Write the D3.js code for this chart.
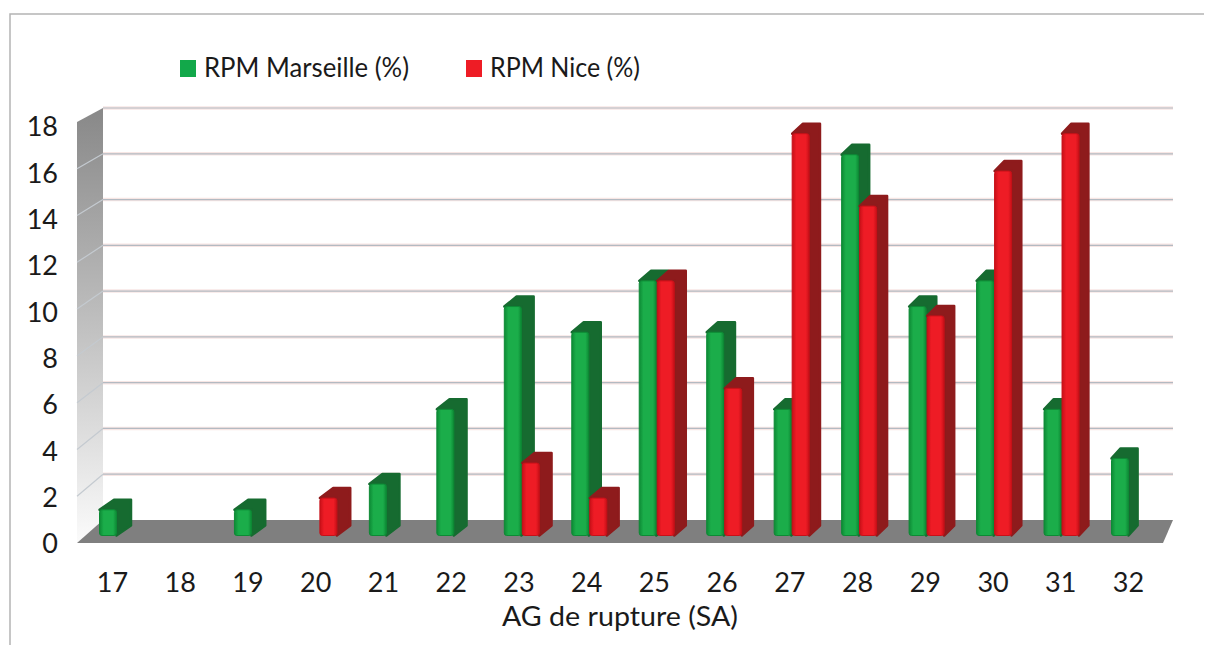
<!DOCTYPE html>
<html>
<head>
<meta charset="utf-8">
<script src="https://cdn.jsdelivr.net/npm/d3@7"></script>
<style>
  html, body { margin: 0; padding: 0; background: #fff; }
  svg { display: block; font-family: Lato, "Open Sans", sans-serif; }
</style>
</head>
<body>
<svg id="chart" width="1206" height="645"></svg>
<script>
// ---- data ----
const categories = ["17","18","19","20","21","22","23","24","25","26","27","28","29","30","31","32"];
const marseille  = [1.1, 0, 1.1, 0, 2.2, 5.4, 9.8, 8.7, 10.9, 8.7, 5.4, 16.3, 9.8, 10.9, 5.4, 3.3];
const nice       = [0, 0, 0, 1.6, 0, 0, 3.1, 1.6, 10.9, 6.3, 17.2, 14.1, 9.4, 15.6, 17.2, 0];
const seriesNames = ["RPM Marseille (%)", "RPM Nice (%)"];
const yTicks = [0, 2, 4, 6, 8, 10, 12, 14, 16, 18];
const xTitle = "AG de rupture (SA)";

// ---- layout ----
const svg = d3.select("#chart");
const colors = {
  m: { front: "#1bad4a", edge: "#0d8a35", side: "#166b30" },
  n: { front: "#ee1c25", edge: "#c81018", side: "#8e1b1c" }
};

// scales
const yBack  = d3.scaleLinear().domain([0, 18]).range([520, 108]);   // back wall
const yFront = d3.scaleLinear().domain([0, 18]).range([543, 122]);   // front edge of side wall
const yLabel = d3.scaleLinear().domain([0, 18]).range([543, 126]);   // tick labels
const yBar   = d3.scaleLinear().domain([0, 18]).range([535.5, 115]); // bar front faces
const xLabel = d3.scalePoint().domain(categories).range([112, 1128]);
const xBar   = d3.scalePoint().domain(categories).range([117, 1129]);

const wallL = 103, wallR = 1173, sideL = 77, floorFrontR = 1163;

const defs = svg.append("defs");
const sg = defs.append("linearGradient").attr("id", "sideGrad")
  .attr("x1", 0).attr("y1", 0).attr("x2", 0).attr("y2", 1);
sg.append("stop").attr("offset", "0%").attr("stop-color", "#888888");
sg.append("stop").attr("offset", "45%").attr("stop-color", "#bababa");
sg.append("stop").attr("offset", "100%").attr("stop-color", "#fbfbfb");

["m", "n"].forEach(k => {
  const g = defs.append("linearGradient").attr("id", "front_" + k)
    .attr("x1", 0).attr("y1", 0).attr("x2", 1).attr("y2", 0);
  g.append("stop").attr("offset", "0%").attr("stop-color", colors[k].edge);
  g.append("stop").attr("offset", "25%").attr("stop-color", colors[k].front);
  g.append("stop").attr("offset", "80%").attr("stop-color", colors[k].front);
  g.append("stop").attr("offset", "100%").attr("stop-color", colors[k].edge);
});

// outer border
svg.append("path").attr("d", "M10,645 L10,14 L1204,14")
  .attr("fill", "none").attr("stroke", "#b4b4b4").attr("stroke-width", 1.5);

// side wall
svg.append("path")
  .attr("d", `M${sideL},${yFront(18)} L${wallL},${yBack(18)} L${wallL},${yBack(0)} L${sideL},${yFront(0)} Z`)
  .attr("fill", "url(#sideGrad)");

// side wall gridlines
svg.append("g").selectAll("line").data(yTicks.filter(d => d > 0 && d < 18)).join("line")
  .attr("x1", sideL).attr("x2", wallL)
  .attr("y1", d => yFront(d)).attr("y2", d => yBack(d))
  .attr("stroke", "#c4cad0").attr("stroke-width", 1.2);

// back wall gridlines (pink halo + grey line)
const gl = svg.append("g");
gl.selectAll("line.halo").data(yTicks.filter(d => d > 0)).join("line")
  .attr("class", "halo")
  .attr("x1", wallL).attr("x2", wallR).attr("y1", d => yBack(d)).attr("y2", d => yBack(d))
  .attr("stroke", "#f7e6e4").attr("stroke-width", 3.5);
gl.selectAll("line.grid").data(yTicks.filter(d => d > 0)).join("line")
  .attr("class", "grid")
  .attr("x1", wallL).attr("x2", wallR).attr("y1", d => yBack(d)).attr("y2", d => yBack(d))
  .attr("stroke", "#b3bac2").attr("stroke-width", 1.2);

// floor
svg.append("path")
  .attr("d", `M${wallL},${yBack(0)} L${wallR},${yBack(0)} L${floorFrontR},${yFront(0)} L${sideL},${yFront(0)} Z`)
  .attr("fill", "#7f7f7f");

// bars
const barW = 17;
const dy = -10;
const dxAt = x => 14.5 - 5.5 * (x - 100) / 1030;
const bars = [];
categories.forEach((c, i) => {
  const cx = xBar(c);
  if (marseille[i] > 0) bars.push({ k: "m", x0: cx - barW - 0.5, v: marseille[i] });
  if (nice[i] > 0) bars.push({ k: "n", x0: cx + 0.5, v: nice[i] });
});
const bg = svg.append("g");
bars.forEach(b => {
  const g = bg.append("g");
  const yT = yBar(b.v), yB = yBar(0), x0 = b.x0, x1 = b.x0 + barW;
  const dx = dxAt(x0);
  // side + top faces
  g.append("path")
    .attr("d", `M${x0},${yT} L${x0 + dx},${yT + dy} L${x1 + dx},${yT + dy} L${x1 + dx},${yB + dy} L${x1},${yB} L${x1},${yT} Z`)
    .attr("fill", colors[b.k].side)
    .attr("stroke", colors[b.k].side).attr("stroke-width", 2.5).attr("stroke-linejoin", "round");
  // front face
  g.append("rect")
    .attr("x", x0).attr("y", yT).attr("width", barW).attr("height", yB - yT)
    .attr("rx", 2.5).attr("ry", 2.5)
    .attr("fill", `url(#front_${b.k})`)
    .attr("stroke", colors[b.k].edge).attr("stroke-width", 1);
});

// y axis labels
const yAxis = svg.append("g").attr("transform", "translate(58,0)")
  .call(d3.axisLeft(yLabel).tickValues(yTicks).tickSize(0).tickPadding(0));
yAxis.select(".domain").remove();
yAxis.selectAll("text").attr("font-size", 27).attr("fill", "#1a1a1a")
  .attr("font-family", "Lato, sans-serif").attr("dy", "0.36em");

// x axis labels
const xAxis = svg.append("g").attr("transform", "translate(0,573)")
  .call(d3.axisBottom(xLabel).tickSize(0).tickPadding(0));
xAxis.select(".domain").remove();
xAxis.selectAll("text").attr("font-size", 27).attr("fill", "#1a1a1a")
  .attr("font-family", "Lato, sans-serif").attr("dy", "0.71em");

// x title
svg.append("text").attr("x", 620).attr("y", 626).attr("text-anchor", "middle")
  .attr("font-size", 27).attr("fill", "#1a1a1a")
  .attr("textLength", 236).attr("lengthAdjust", "spacingAndGlyphs")
  .text(xTitle);

// legend
const legend = [
  { name: seriesNames[0], color: "#12a84a", sx: 180, tx: 204, len: 205 },
  { name: seriesNames[1], color: "#ee1c25", sx: 466, tx: 490, len: 150 }
];
const lg = svg.append("g").selectAll("g").data(legend).join("g");
lg.append("rect").attr("x", d => d.sx).attr("y", 60).attr("width", 16).attr("height", 17)
  .attr("fill", d => d.color);
lg.append("text").attr("x", d => d.tx).attr("y", 77)
  .attr("font-size", 27).attr("fill", "#1a1a1a")
  .attr("textLength", d => d.len).attr("lengthAdjust", "spacingAndGlyphs")
  .text(d => d.name);
</script>
</body>
</html>
